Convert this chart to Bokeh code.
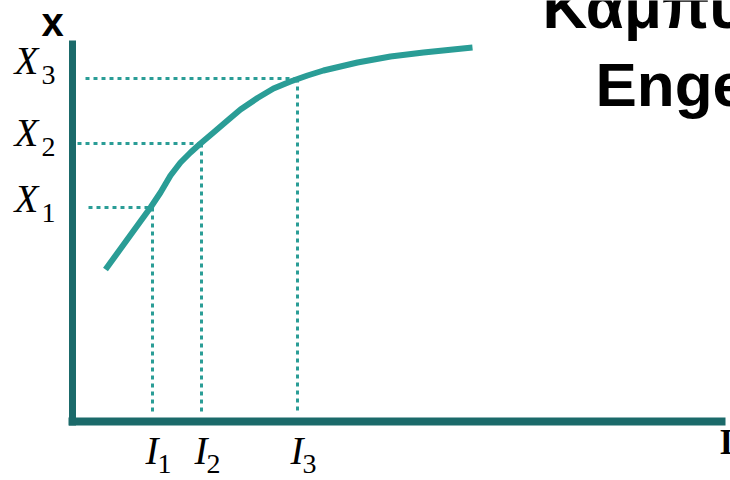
from bokeh.plotting import figure
from bokeh.models import Range1d
from bokeh.core.properties import value
from bokeh.embed import file_html
from bokeh.resources import INLINE

# ---- data (income I, quantity x), arbitrary units ----
curve_I = [3.3, 7.0, 7.8, 8.8, 9.8, 10.8, 11.8, 12.8, 14.1, 15.5, 16.8, 18.5, 20.1, 21.8, 23.5, 25.1, 28.5, 31.8, 35.1, 40.0]
curve_X = [15.2, 20.3, 21.4, 22.9, 24.6, 25.9, 26.9, 27.8, 28.9, 30.1, 31.2, 32.35, 33.3, 34.0, 34.6, 35.1, 35.9, 36.5, 36.9, 37.4]

mark_I = [8.0, 12.9, 22.5]
mark_X = [21.4, 27.8, 34.3]
sub_labels = ["1", "2", "3"]

title_lines = ["Καμπύλη", "Engel"]
x_axis_name = "I"
y_axis_name = "x"

# ---- layout / style ----
AXIS_COL = "#1b6a6a"
CURVE_COL = "#2a9d96"
SERIF = value("Liberation Serif")
SANS = value("Liberation Sans")
LIFT = 0.38  # empirical baseline correction (fraction of font size)

p = figure(width=730, height=480,
           x_range=Range1d(-7.2, 65.8), y_range=Range1d(-5.9, 42.1),
           x_axis_type=None, y_axis_type=None,
           toolbar_location=None, output_backend="svg", min_border=0)
p.grid.visible = False
p.outline_line_color = None
p.background_fill_color = "white"
p.border_fill_color = "white"

# dotted guide lines
h_start = [1.6, 0.5, 1.3]
p.segment(x0=h_start, y0=mark_X, x1=mark_I, y1=mark_X,
          line_color=CURVE_COL, line_width=3, line_dash="4 4")
p.segment(x0=mark_I, y0=mark_X, x1=mark_I, y1=[0.8] * len(mark_I),
          line_color=CURVE_COL, line_width=3, line_dash="4 4")

# axes drawn as thick lines
p.segment(x0=[0, -0.4], y0=[-0.4, 0], x1=[0, 65.3], y1=[38.1, 0],
          line_color=AXIS_COL, line_width=[7, 8], line_cap="butt")

# Engel curve
p.line(curve_I, curve_X, line_color=CURVE_COL, line_width=6, line_join="round")

def txt(x, y, t, size, font, style="normal", xo=0, yo=0):
    yo_list = yo if isinstance(yo, list) else [yo] * len(t)
    p.text(x=x, y=y, text=t, x_offset=xo,
           y_offset=[o - LIFT * size for o in yo_list],
           text_font=font, text_font_style=style, text_font_size=f"{size}px",
           text_baseline="alphabetic", text_align="left", text_color="black")

# X labels on the vertical axis
x_lab_off = [6, 4, -3]
txt([-5.8] * 3, mark_X, ["X"] * 3, 39, SERIF, "italic", 0, x_lab_off)
txt([-5.8] * 3, mark_X, sub_labels, 28, SERIF, "normal", 27,
    [o + 10 for o in x_lab_off])

# I labels under the horizontal axis
txt(mark_I, [-4.7] * 3, ["I"] * 3, 39, SERIF, "italic", -7, -3)
txt(mark_I, [-4.7] * 3, sub_labels, 28, SERIF, "normal", 5, 6)

# axis names
txt([-3.1], [38.4], [y_axis_name], 40, SANS, "bold")
txt([64.7], [-3.4], [x_axis_name], 35, SERIF, "bold")

# title
txt([47.0, 52.3], [39.1, 31.3], title_lines, 62, SANS, "bold")

open("out.html", "w").write(file_html(p, INLINE))
